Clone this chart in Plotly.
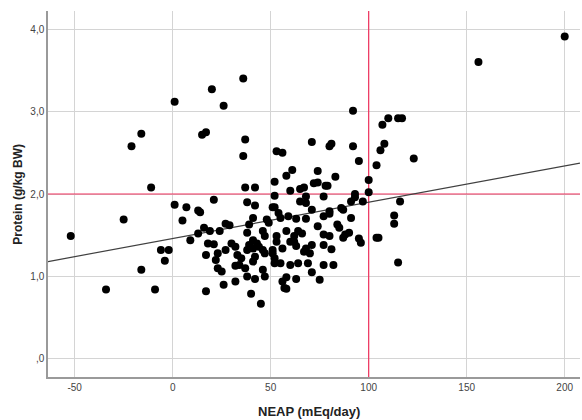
import plotly.graph_objects as go

# NEAP (mEq/day) values
neap = [-52, -34, -25, -21, -16, -16, -11, -9, -6, -4, -2, 1, 1, 5, 7, 9, 13, 14, 13, 15,
        17, 16, 17, 17, 18, 19, 20, 21, 21, 22, 23, 23, 24, 25, 26, 26, 27, 27, 29, 30,
        32, 33, 35, 32, 34, 32, 36, 37, 36, 37, 38, 39, 38, 38, 39, 37, 38, 40, 41, 41,
        43, 41, 44, 42, 41, 42, 42, 42, 45, 46, 47, 46, 47, 46, 47, 48, 49, 51, 52, 51,
        51, 52, 52, 52, 52, 53, 53, 53, 54, 55, 55, 56, 56, 56, 57, 58, 58, 58, 58, 59,
        60, 60, 60, 61, 62, 62, 63, 63, 63, 64, 64, 65, 65, 66, 67, 67, 68, 68, 68, 68,
        69, 70, 71, 71, 71, 71, 72, 74, 74, 74, 75, 77, 77, 77, 77, 77, 78, 79, 80, 81,
        80, 80, 80, 81, 82, 83, 84, 85, 86, 87, 87, 88, 90, 91, 91, 92, 92, 93, 93, 95,
        95, 96, 97, 100, 100, 104, 104, 105, 106, 107, 108, 110, 113, 113, 115, 115, 116, 117, 123, 156,
        200]

# Protein (g/kg BW) values
protein = [1.49, 0.84, 1.69, 2.58, 2.73, 1.08, 2.08, 0.84, 1.32, 1.19, 1.32, 3.12, 1.87, 1.68, 1.84, 1.44, 1.80, 1.78, 1.52, 2.72,
           2.75, 1.59, 0.82, 1.26, 1.40, 1.55, 3.27, 1.93, 1.39, 1.20, 1.28, 1.10, 1.55, 1.06, 3.07, 0.90, 1.32, 1.64, 1.62, 1.40,
           1.36, 1.26, 1.22, 1.13, 1.14, 0.94, 3.40, 2.66, 2.46, 2.08, 1.90, 1.63, 1.53, 1.32, 1.38, 1.10, 1.00, 0.79, 1.71, 1.44,
           1.40, 1.34, 1.36, 1.24, 1.18, 0.97, 2.08, 1.86, 0.67, 1.55, 1.49, 1.32, 1.28, 1.08, 1.00, 1.69, 1.65, 1.84, 1.84, 1.32,
           1.28, 1.22, 1.16, 2.15, 1.98, 2.52, 1.42, 1.49, 1.77, 1.71, 1.16, 1.34, 0.94, 2.50, 0.86, 0.85, 0.99, 1.55, 2.22, 1.73,
           1.42, 1.14, 2.04, 2.29, 1.42, 1.49, 1.37, 1.70, 0.97, 1.16, 1.55, 2.06, 1.91, 1.52, 1.30, 2.08, 1.97, 1.89, 1.34, 1.70,
           1.16, 1.28, 1.81, 1.38, 1.05, 2.63, 2.13, 2.14, 2.28, 1.61, 0.96, 1.97, 1.73, 1.51, 1.38, 1.14, 2.10, 2.10, 2.58, 2.61,
           1.79, 1.76, 1.49, 1.33, 1.14, 2.21, 1.63, 1.59, 1.83, 1.81, 1.47, 1.51, 1.53, 1.91, 1.71, 3.01, 2.58, 2.00, 1.96, 2.40,
           1.46, 1.41, 1.91, 2.17, 2.02, 2.35, 1.47, 1.47, 2.53, 2.84, 2.61, 2.92, 1.74, 1.64, 2.92, 1.17, 1.91, 2.92, 2.43, 3.60,
           3.91]

# Linear fit line coefficients
fit_intercept = 1.46
fit_slope = 0.0044

# Reference lines
ref_neap = 100
ref_protein = 2.0

# Axes
x_range = [-63.6, 207.8]
y_range = [-0.22, 4.22]
x_ticks = [-50, 0, 50, 100, 150, 200]
x_tick_labels = ["-50", "0", "50", "100", "150", "200"]
y_ticks = [0, 1, 2, 3, 4]
y_tick_labels = [",0", "1,0", "2,0", "3,0", "4,0"]
x_title = "NEAP (mEq/day)"
y_title = "Protein (g/kg BW)"

red = "#f0305c"
grid = "#d4d4d4"

fig = go.Figure()

# Reference lines drawn first so markers sit on top
fig.add_trace(go.Scatter(x=[ref_neap, ref_neap], y=y_range, mode="lines",
                         line=dict(color=red, width=1.2), hoverinfo="skip", showlegend=False))
fig.add_trace(go.Scatter(x=x_range, y=[ref_protein, ref_protein], mode="lines",
                         line=dict(color=red, width=1.2), hoverinfo="skip", showlegend=False))

fit_x = x_range
fit_y = [fit_intercept + fit_slope * v for v in fit_x]
fig.add_trace(go.Scatter(x=fit_x, y=fit_y, mode="lines",
                         line=dict(color="#404040", width=1.2),
                         hoverinfo="skip", showlegend=False))

fig.add_trace(go.Scatter(x=neap, y=protein, mode="markers",
                         marker=dict(color="black", size=8, line=dict(width=0)),
                         showlegend=False))

fig.add_annotation(text="<b>" + x_title + "</b>", xref="paper", yref="paper",
                   x=0.49, y=-0.095, yanchor="middle", xanchor="center", showarrow=False,
                   font=dict(size=13, color="#222222"))
fig.add_annotation(text="<b>" + y_title + "</b>", xref="paper", yref="paper",
                   x=-0.057, y=0.5, yanchor="middle", xanchor="center", showarrow=False,
                   textangle=-90, font=dict(size=12, color="#222222"))

fig.update_layout(
    width=582, height=420,
    margin=dict(l=48, r=2, t=11, b=43),
    paper_bgcolor="white", plot_bgcolor="white",
    font=dict(family="Liberation Sans, Arial, sans-serif", color="#333333"),
    xaxis=dict(range=x_range, tickvals=x_ticks, ticktext=x_tick_labels,
               showgrid=True, gridcolor=grid, gridwidth=1, zeroline=False,
               showline=True, linecolor="#9a9a9a", linewidth=1.5,
               ticks="", ticklen=0, tickfont=dict(size=10, color="#444444"),
               automargin=False),
    yaxis=dict(range=y_range, tickvals=y_ticks, ticktext=y_tick_labels,
               showgrid=True, gridcolor=grid, gridwidth=1, zeroline=False,
               showline=True, linecolor="#9a9a9a", linewidth=1.5,
               ticks="", ticklen=0, tickfont=dict(size=10, color="#444444"),
               automargin=False),
)

fig.write_html("out.html", config={"displayModeBar": False},
               post_script="document.body.style.margin='0';document.body.style.overflow='hidden';")
